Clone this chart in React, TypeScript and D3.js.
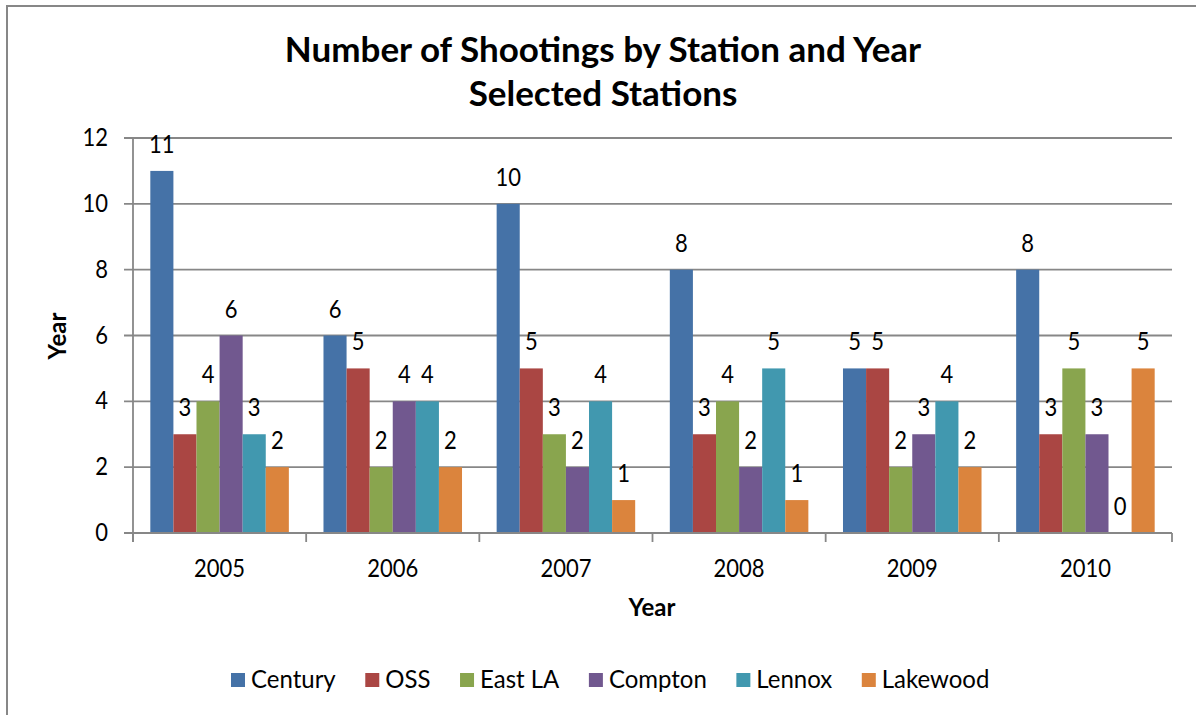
import React from "react";
import * as d3 from "d3";

const years = ["2005", "2006", "2007", "2008", "2009", "2010"];
const stations = ["Century", "OSS", "East LA", "Compton", "Lennox", "Lakewood"];
const century = [11, 6, 10, 8, 5, 8];
const oss = [3, 5, 5, 3, 5, 3];
const eastLA = [4, 2, 3, 4, 2, 5];
const compton = [6, 4, 2, 2, 3, 3];
const lennox = [3, 4, 4, 5, 4, 0];
const lakewood = [2, 2, 1, 1, 2, 5];
const yTicks = [0, 2, 4, 6, 8, 10, 12];
const colors = ["#4572A7", "#AA4643", "#89A54E", "#71588F", "#4198AF", "#DB843D"];

const seriesValues = [century, oss, eastLA, compton, lennox, lakewood];

const W = 1196;
const H = 715;
const plot = { left: 133, right: 1172, top: 138, bottom: 533 };
const FONT = "Lato, 'Open Sans', sans-serif";
const GRID = "#878787";

function measure(text: string, font: string): number {
  const c = document.createElement("canvas").getContext("2d");
  if (!c) return text.length * 10;
  c.font = font;
  return c.measureText(text).width;
}

function T(props: { x: number; y: number; children: any; anchor?: string; size: number; bold?: boolean; rotate?: number; vs?: number }) {
  const { x, y, children, anchor = "middle", size, bold, rotate, vs = 1.12 } = props;
  const tr = `translate(${x},${y})${rotate ? ` rotate(${rotate})` : ""} scale(1,${vs})`;
  return (
    <text transform={tr} textAnchor={anchor} fontFamily={FONT} fontSize={size} fontWeight={bold ? 700 : 400} fill="#000">
      {children}
    </text>
  );
}

export default function App() {
  const x0 = d3.scaleBand().domain(years).range([plot.left, plot.right]).paddingInner(0).paddingOuter(0);
  const groupW = x0.bandwidth() * (6 / 7.5);
  const x1 = d3.scaleBand().domain(stations).range([0, groupW]).padding(0);
  const y = d3.scaleLinear().domain([0, 12]).range([plot.bottom, plot.top]);

  const legendFont = `24px Lato`;
  let lx = 231;
  const legendItems = stations.map((s, i) => {
    const item = { s, i, x: lx };
    lx += 14 + 6 + measure(s, legendFont) + 29.5;
    return item;
  });

  const boundaries = years.map((yr) => x0(yr) as number).concat([plot.right]);

  return (
    <div style={{ position: "absolute", left: 0, top: 0 }}>
      <svg width={W} height={H} style={{ display: "block", background: "#fff" }}>
        <rect x={7} y={6} width={W + 20} height={H + 20} fill="#fff" stroke={GRID} strokeWidth={2} />

        {/* title */}
        <T x={603} y={62} size={35} bold vs={1.0}>Number of Shootings by Station and Year</T>
        <T x={603} y={106} size={35} bold vs={1.0}>Selected Stations</T>

        {/* gridlines */}
        {yTicks.map((t) => (
          <line key={"g" + t} x1={plot.left - 9} x2={plot.right} y1={y(t)} y2={y(t)} stroke={GRID} strokeWidth={1.8} />
        ))}
        {/* y axis line */}
        <line x1={plot.left} x2={plot.left} y1={plot.top} y2={plot.bottom + 9} stroke={GRID} strokeWidth={1.8} />
        {/* x ticks */}
        {boundaries.map((b, i) => (
          <line key={"xt" + i} x1={b} x2={b} y1={plot.bottom} y2={plot.bottom + 9} stroke={GRID} strokeWidth={1.8} />
        ))}

        {/* bars */}
        {years.map((yr, yi) => {
          const gx = (x0(yr) as number) + (x0.bandwidth() - groupW) / 2;
          return (
            <g key={yr}>
              {stations.map((s, si) => {
                const v = seriesValues[si][yi];
                const bx = gx + (x1(s) as number);
                return (
                  <rect key={s} x={bx} y={y(v)} width={x1.bandwidth()} height={plot.bottom - y(v)} fill={colors[si]} />
                );
              })}
            </g>
          );
        })}
        {/* re-draw x axis baseline over bars */}
        <line x1={plot.left - 9} x2={plot.right} y1={plot.bottom} y2={plot.bottom} stroke={GRID} strokeWidth={1.8} />

        {/* data labels */}
        {years.map((yr, yi) => {
          const gx = (x0(yr) as number) + (x0.bandwidth() - groupW) / 2;
          return stations.map((s, si) => {
            const v = seriesValues[si][yi];
            const cx = gx + (x1(s) as number) + x1.bandwidth() / 2;
            return (
              <T key={yr + s} x={cx} y={y(v) - 18} size={22}>{String(v)}</T>
            );
          });
        })}

        {/* y tick labels */}
        {yTicks.map((t) => (
          <T key={"yl" + t} x={108} y={y(t) + 8} size={22} anchor="end">{String(t)}</T>
        ))}
        {/* x tick labels */}
        {years.map((yr) => (
          <T key={"xl" + yr} x={(x0(yr) as number) + x0.bandwidth() / 2} y={577} size={22}>{yr}</T>
        ))}

        {/* axis titles */}
        <T x={652} y={616} size={24} bold vs={1.05}>Year</T>
        <T x={66} y={336} size={24} bold rotate={-90} vs={1.05}>Year</T>

        {/* legend */}
        {legendItems.map((it) => (
          <g key={it.s}>
            <rect x={it.x} y={673} width={14} height={14} fill={colors[it.i]} />
            <T x={it.x + 20} y={688} size={24} anchor="start" vs={1.05}>{it.s}</T>
          </g>
        ))}
      </svg>
    </div>
  );
}
